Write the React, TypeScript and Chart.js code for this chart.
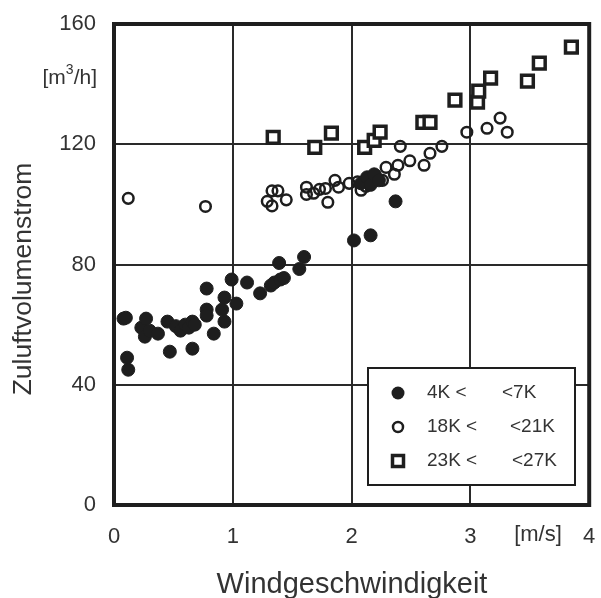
import React, { useEffect, useRef } from "react";
import { Chart, registerables } from "chart.js";

Chart.register(...registerables);

const xTicks = [0, 1, 2, 3, 4];
const yTicks = [0, 40, 80, 120, 160];

const series4to7K: [number, number][] = [
  [0.08, 62], [0.1, 62.3], [0.11, 49], [0.12, 45], [0.23, 59], [0.27, 62], [0.26, 56],
  [0.3, 58], [0.37, 57], [0.45, 61], [0.47, 51], [0.52, 59.5], [0.56, 58], [0.6, 60],
  [0.63, 59], [0.66, 61], [0.68, 60], [0.66, 52], [0.78, 72], [0.78, 65], [0.78, 63],
  [0.84, 57], [0.91, 65], [0.93, 69], [0.93, 61], [0.99, 75], [1.03, 67], [1.12, 74],
  [1.23, 70.4], [1.32, 73], [1.35, 74], [1.4, 75], [1.43, 75.5], [1.39, 80.5],
  [1.56, 78.5], [1.6, 82.5], [2.02, 88], [2.16, 89.7], [2.37, 101],
  [2.08, 107], [2.13, 109], [2.16, 106.5], [2.19, 110], [2.23, 108],
];

const series18to21K: [number, number][] = [
  [0.12, 102], [0.77, 99.3], [1.29, 101], [1.33, 104.5], [1.38, 104.5], [1.33, 99.5],
  [1.45, 101.5], [1.62, 105.7], [1.62, 103.3], [1.68, 103.7], [1.73, 105], [1.78, 105.3],
  [1.8, 100.7], [1.86, 108], [1.89, 105.7], [1.98, 107], [2.08, 104.7], [2.05, 107.5],
  [2.12, 106], [2.17, 108], [2.2, 109.7], [2.26, 108], [2.29, 112.3], [2.36, 110],
  [2.39, 113], [2.41, 119.3], [2.49, 114.5], [2.61, 113], [2.66, 117], [2.76, 119.3],
  [2.97, 124], [3.14, 125.3], [3.25, 128.7], [3.31, 124],
];

const series23to27K: [number, number][] = [
  [1.34, 122.3], [1.69, 119], [1.83, 123.7], [2.11, 119], [2.19, 121.3], [2.24, 124],
  [2.6, 127.3], [2.66, 127.3], [2.87, 134.7], [3.06, 134], [3.07, 137.7], [3.17, 142],
  [3.48, 141], [3.58, 147], [3.85, 152.3],
];

const legendLeft = ["4K <", "18K <", "23K <"];
const legendRight = ["<7K", "<21K", "<27K"];

const INK = "#1e1e1e";
const TEXT = "#333333";
const FONT = "'Liberation Sans', Arial, sans-serif";

const toPts = (arr: [number, number][]) => arr.map(([x, y]) => ({ x, y }));

export default function App() {
  const ref = useRef<HTMLCanvasElement | null>(null);

  useEffect(() => {
    if (!ref.current) return;

    const decor = {
      id: "decor",
      afterDatasetsDraw(chart: any) {
        const ctx = chart.ctx as CanvasRenderingContext2D;
        const ca = chart.chartArea;
        ctx.save();
        const lx = 368, ly = 368, lw = 207, lh = 117;
        ctx.fillStyle = "#ffffff";
        ctx.fillRect(lx, ly, lw, lh);
        ctx.strokeStyle = INK;
        ctx.lineWidth = 2;
        ctx.strokeRect(lx, ly, lw, lh);
        const rows = [393, 427, 461];
        const mx = 398;
        ctx.fillStyle = INK;
        ctx.beginPath();
        ctx.arc(mx, rows[0], 6.5, 0, Math.PI * 2);
        ctx.fill();
        ctx.strokeStyle = INK;
        ctx.lineWidth = 2.5;
        ctx.beginPath();
        ctx.arc(mx, rows[1], 5, 0, Math.PI * 2);
        ctx.stroke();
        ctx.lineWidth = 3.5;
        ctx.strokeRect(mx - 5.5, rows[2] - 5.5, 11, 11);
        ctx.fillStyle = TEXT;
        ctx.font = `19px ${FONT}`;
        ctx.textBaseline = "middle";
        ctx.textAlign = "left";
        const rightX = [502, 510, 512];
        for (let i = 0; i < 3; i++) {
          ctx.fillText(legendLeft[i], 427, rows[i]);
          ctx.fillText(legendRight[i], rightX[i], rows[i]);
        }
        ctx.strokeStyle = INK;
        ctx.lineWidth = 4;
        ctx.strokeRect(ca.left, ca.top, ca.right - ca.left, ca.bottom - ca.top);
        ctx.restore();
      },
      afterDraw(chart: any) {
        const ctx = chart.ctx as CanvasRenderingContext2D;
        ctx.save();
        ctx.fillStyle = TEXT;
        ctx.textBaseline = "middle";
        ctx.textAlign = "left";
        const p1 = "[m";
        const p3 = "/h]";
        ctx.font = `14px ${FONT}`;
        const w2 = ctx.measureText("3").width;
        ctx.font = `21px ${FONT}`;
        const w1 = ctx.measureText(p1).width;
        const w3 = ctx.measureText(p3).width;
        const right = 97;
        const start = right - (w1 + w2 + w3);
        const ym = 78;
        ctx.fillText(p1, start, ym);
        ctx.font = `14px ${FONT}`;
        ctx.fillText("3", start + w1, ym - 8);
        ctx.font = `21px ${FONT}`;
        ctx.fillText(p3, start + w1 + w2, ym);
        ctx.textAlign = "center";
        ctx.font = `22px ${FONT}`;
        ctx.fillText("[m/s]", 538, 535);
        ctx.font = `29px ${FONT}`;
        ctx.textBaseline = "alphabetic";
        ctx.fillText("Windgeschwindigkeit", 352, 593);
        ctx.translate(24, 279);
        ctx.rotate(-Math.PI / 2);
        ctx.font = `26.5px ${FONT}`;
        ctx.textBaseline = "middle";
        ctx.fillText("Zuluftvolumenstrom", 0, 0);
        ctx.restore();
      },
    };

    const chart = new Chart(ref.current, {
      type: "scatter",
      data: {
        datasets: [
          {
            label: "4K < <7K",
            data: toPts(series4to7K),
            pointStyle: "circle",
            pointRadius: 6.5,
            pointBackgroundColor: INK,
            pointBorderColor: INK,
            pointBorderWidth: 1,
          },
          {
            label: "18K < <21K",
            data: toPts(series18to21K),
            pointStyle: "circle",
            pointRadius: 5.3,
            pointBackgroundColor: "rgba(255,255,255,0)",
            pointBorderColor: INK,
            pointBorderWidth: 2.5,
          },
          {
            label: "23K < <27K",
            data: toPts(series23to27K),
            pointStyle: "rect",
            pointRadius: 8.3,
            pointBackgroundColor: "#ffffff",
            pointBorderColor: INK,
            pointBorderWidth: 3.5,
          },
        ],
      },
      options: {
        responsive: false,
        animation: false,
        events: [],
        layout: { padding: { left: 0, top: 24, right: 9, bottom: 0 } },
        plugins: {
          legend: { display: false },
          tooltip: { enabled: false },
        },
        scales: {
          x: {
            type: "linear",
            min: 0,
            max: 4,
            afterBuildTicks: (s: any) => {
              s.ticks = xTicks.map((v) => ({ value: v }));
            },
            afterFit: (s: any) => {
              s.height = 93;
              s.paddingLeft = 0;
              s.paddingRight = 0;
            },
            grid: { color: "#2a2a2a", lineWidth: 2, drawTicks: false },
            border: { display: false },
            ticks: {
              color: TEXT,
              font: { family: FONT, size: 22 },
              padding: 19,
              maxRotation: 0,
              autoSkip: false,
            },
          },
          y: {
            type: "linear",
            min: 0,
            max: 160,
            afterBuildTicks: (s: any) => {
              s.ticks = yTicks.map((v) => ({ value: v }));
            },
            afterFit: (s: any) => {
              s.width = 114;
              s.paddingTop = 0;
              s.paddingBottom = 0;
            },
            grid: { color: "#2a2a2a", lineWidth: 2, drawTicks: false },
            border: { display: false },
            ticks: {
              color: TEXT,
              font: { family: FONT, size: 22 },
              padding: 18,
              autoSkip: false,
            },
          },
        },
      },
      plugins: [decor],
    } as any);

    return () => chart.destroy();
  }, []);

  return (
    <div style={{ position: "fixed", left: 0, top: 0, width: 601, height: 598, background: "#fff" }}>
      <canvas ref={ref} width={601} height={598} style={{ display: "block" }} />
    </div>
  );
}
